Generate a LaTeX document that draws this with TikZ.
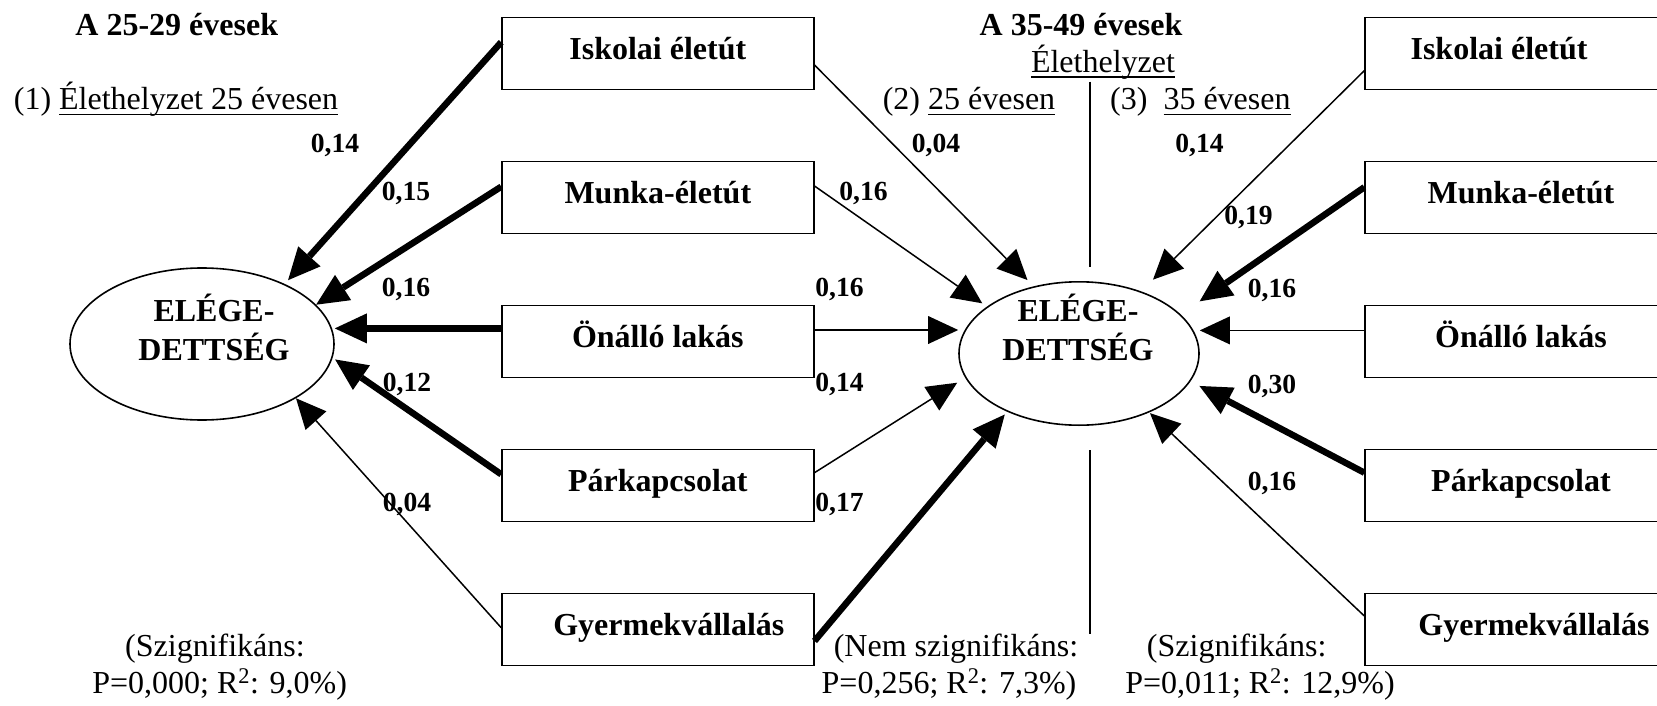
\documentclass[tikz,border=0pt]{standalone}
\usepackage{fontspec}
\setmainfont{Liberation Serif}
\usetikzlibrary{arrows.meta,shapes.geometric}
\newcommand\myul[1]{\setbox0=\hbox{#1}\rlap{\rule[-5pt]{\wd0}{1.4pt}}\box0}
\begin{document}
\begin{tikzpicture}[x=1pt,y=-1pt,
  box/.style={draw, line width=1.3pt, minimum width=312pt, minimum height=72pt, inner sep=0pt,
    font=\fontsize{32pt}{38pt}\selectfont\bfseries, text height=21pt, text depth=9pt},
  ell/.style={draw, ellipse, line width=1.6pt, inner sep=0pt},
  etxt/.style={font=\fontsize{32pt}{38pt}\selectfont\bfseries, anchor=base, inner sep=0pt},
  coef/.style={font=\fontsize{27.6pt}{30pt}\selectfont\bfseries, anchor=base, inner sep=0pt},
  txt/.style={font=\fontsize{32pt}{38pt}\selectfont, anchor=base, inner sep=0pt},
  ttl/.style={font=\fontsize{32pt}{38pt}\selectfont\bfseries, anchor=base, inner sep=0pt},
  thn/.style={line width=1.5pt, -{Triangle[length=30pt,width=28pt,line width=0pt 0 0]}},
  thk/.style={line width=6.5pt, -{Triangle[length=32pt,width=30pt,line width=0pt 0 0]}},
  sepline/.style={line width=2pt}
]
\useasboundingbox (0,0) rectangle (1657,706);

% boxes
\node[box] (L1) at (657.85,53.2) {Iskolai életút};
\node[box] (L2) at (657.85,197.3) {Munka-életút};
\node[box] (L3) at (657.85,341.4) {Önálló lakás};
\node[box] (L4) at (657.85,485.4) {Párkapcsolat};
\node[box] (L5) at (657.85,629.5) {\hspace*{22pt}Gyermekvállalás};

\node[box] (R1) at (1521,53.8) {Iskolai életút\hspace*{44pt}};
\node[box] (R2) at (1521,197.8) {Munka-életút};
\node[box] (R3) at (1521,341.8) {Önálló lakás};
\node[box] (R4) at (1521,485.4) {Párkapcsolat};
\node[box] (R5) at (1521,629.5) {\hspace*{26pt}Gyermekvállalás};

% ellipses
\node[ell, minimum width=264pt, minimum height=152pt] (E1) at (202,344) {};
\node[ell, minimum width=240pt, minimum height=143.4pt] (E2) at (1079,353.5) {};
\node[etxt] (E1a) at (214,321.7) {ELÉGE-};
\node[etxt] (E1b) at (214,360) {DETTSÉG};
\node[etxt] (E2a) at (1078,321.7) {ELÉGE-};
\node[etxt] (E2b) at (1078,360) {DETTSÉG};

% titles
\node[ttl] (T1) at (176.8,36) {A 25-29 évesek};
\node[ttl] (T2) at (1081,36) {A 35-49 évesek};
\node[txt] (S1) at (176,110) {(1) \myul{Élethelyzet 25 évesen}};
\node[txt] (H2) at (1103,72.7) {\myul{Élethelyzet}};
\node[txt] (S2) at (969,110) {(2) \myul{25 évesen}};
\node[txt, anchor=base west] (S3) at (1110,110) {(3)\hspace{16pt}\myul{35 évesen}};

% separator lines
\coordinate (v1) at (1090,81.7);
\coordinate (v2) at (1090,266.7);
\coordinate (v3) at (1090,450);
\coordinate (v4) at (1090,634);
\draw[sepline] (v1) -- (v2);
\draw[sepline] (v3) -- (v4);

% left arrows
\draw[thk, shorten >=5pt] ([yshift=11pt]L1.west) -- (E1.36.8);
\draw[thk] ([yshift=10.6pt]L2.west) -- (E1.19.6);
\coordinate (s13) at ([yshift=13pt]L3.west);
\draw[thk] (s13) -- (s13 -| E1.east);
\draw[thk, shorten >=3pt] ([yshift=11.1pt]L4.west) -- (E1.354);
\draw[thn] ([yshift=1.8pt]L5.west) -- (E1.330.5);

% middle arrows
\draw[thn, shorten >=8.8pt] ([yshift=-11.8pt]L1.east) -- (E2.124.8);
\draw[thn, shorten >=5.7pt] ([yshift=11.3pt]L2.east) -- (E2.153.5);
\coordinate (s23) at ([yshift=11.4pt]L3.east);
\draw[thn] (s23) -- (s23 -| E2.west);
\draw[thn, shorten >=9.4pt] ([yshift=12.7pt]L4.east) -- (E2.192.3);
\draw[thk, shorten >=3.6pt] ([yshift=-11.5pt]L5.east) -- (E2.219.6);

% right arrows
\draw[thn, shorten >=16.6pt] ([yshift=-16.8pt]R1.west) -- (E2.45.3);
\draw[thk, shorten >=23pt] ([yshift=10.6pt]R2.west) -- (E2.21.8);
\coordinate (s33) at ([yshift=11.4pt]R3.west);
\draw[thn] (s33) -- (s33 -| E2.east);
\draw[thk, shorten >=10pt] ([yshift=12.7pt]R4.west) -- (E2.346.3);
\draw[thn, shorten >=1pt] ([yshift=13.5pt]R5.west) -- (E2.320.5);

% coefficients
\node[coef] (c11) at (335,153) {0,14};
\node[coef] (c12) at (406,200) {0,15};
\node[coef] (c13) at (406,296) {0,16};
\node[coef] (c14) at (407,391) {0,12};
\node[coef] (c15) at (407,511) {0,04};
\node[coef] (c21) at (936,153) {0,04};
\node[coef] (c22) at (863.5,200) {0,16};
\node[coef] (c23) at (839.5,296) {0,16};
\node[coef] (c24) at (839.5,391) {0,14};
\node[coef] (c25) at (839.5,511) {0,17};
\node[coef] (c31) at (1199.5,153) {0,14};
\node[coef] (c32) at (1248.5,224) {0,19};
\node[coef] (c33) at (1272,297) {0,16};
\node[coef] (c34) at (1272,393) {0,30};
\node[coef] (c35) at (1272,490) {0,16};

% bottom texts
\node[txt] (B1a) at (215,656) {(Szignifikáns:};
\node[txt] (B1b) at (219.6,693) {P=0,000; R\textsuperscript{2}: 9,0\%)};
\node[txt] (B2a) at (956,656) {(Nem szignifikáns:};
\node[txt] (B2b) at (949,693) {P=0,256; R\textsuperscript{2}: 7,3\%)};
\node[txt, anchor=base east] (B3a) at (1326.7,656) {(Szignifikáns:};
\node[txt, anchor=base east] (B3b) at (1395,693) {P=0,011; R\textsuperscript{2}: 12,9\%)};
\end{tikzpicture}
\end{document}
